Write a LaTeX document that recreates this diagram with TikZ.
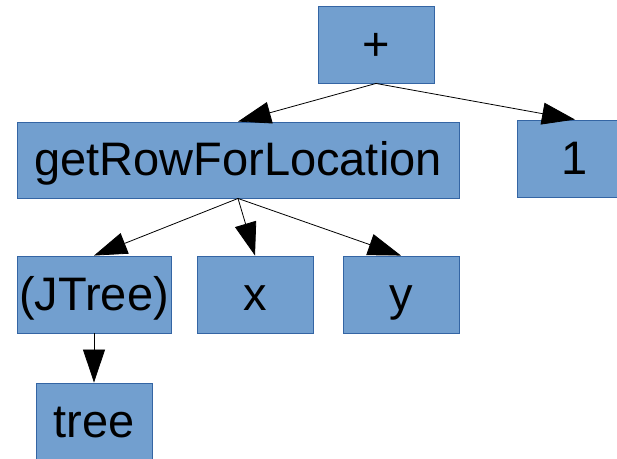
\documentclass[tikz,border=0pt]{standalone}
\usepackage{fontspec}
\setmainfont{Liberation Sans}
\usetikzlibrary{arrows.meta}
\definecolor{boxfill}{HTML}{729FCF}
\definecolor{boxline}{HTML}{3465A4}
\tikzset{
  term/.style={rectangle, fill=boxfill, draw=boxline, line width=0.9pt,
    inner sep=0pt, minimum height=77pt, text height=31pt, text depth=0pt,
    font=\fontsize{47}{52}\selectfont},
  edge/.style={draw=black, line width=0.8pt,
    -{Triangle[length=33pt,width=22pt]}}
}
\begin{document}
\begin{tikzpicture}[x=1pt,y=-1pt]
  \useasboundingbox (0,0) rectangle (617,458);
  \node[term, minimum width=116pt] (plus) at (376,44.5) {+};
  \node[term, minimum width=442pt, minimum height=76pt] (call) at (238,160) {getRowForLocation};
  \node[term, minimum width=116pt] (one) at (575,158.5) {1};
  \node[term, minimum width=154pt] (cast) at (94,294.5) {(JTree)};
  \node[term, minimum width=116pt] (xarg) at (255,294.5) {x};
  \node[term, minimum width=116pt] (yarg) at (401,294.5) {y};
  \node[term, minimum width=116pt] (tree) at (94,421.5) {tree};
  \draw[edge] (plus.south) -- (call.north);
  \draw[edge] (plus.south) -- (one.north);
  \draw[edge] (call.south) -- (cast.north);
  \draw[edge] (call.south) -- (xarg.north);
  \draw[edge] (call.south) -- (yarg.north);
  \draw[edge] (cast.south) -- (tree.north);
\end{tikzpicture}
\end{document}
